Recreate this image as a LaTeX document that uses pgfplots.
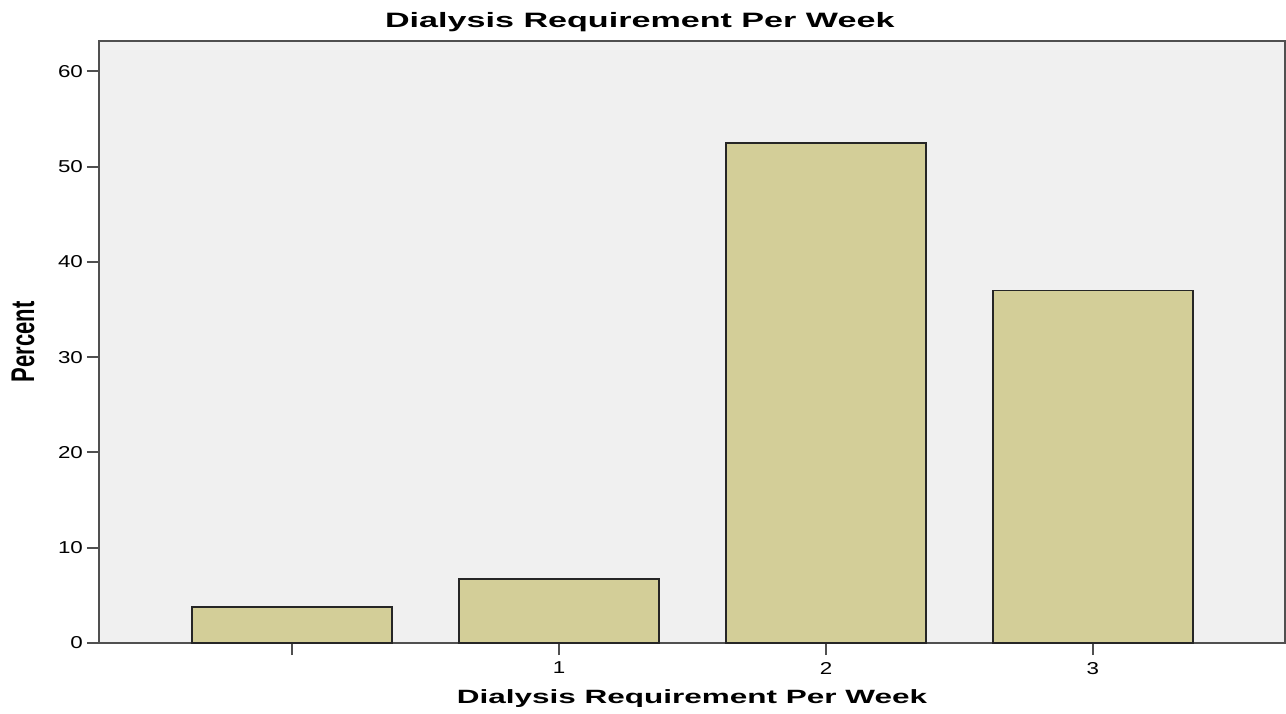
\documentclass[border=0pt]{standalone}
\usepackage{graphicx}
\usepackage{pgfplots}
\pgfplotsset{compat=1.18}
\usepackage{fontspec}
\setmainfont{Liberation Sans}
\newfontfamily\widefont[FakeStretch=1.64]{Liberation Sans}
\newfontfamily\tickfont[FakeStretch=1.3]{Liberation Sans}
\definecolor{barfill}{HTML}{D3CE98}
\definecolor{plotbg}{HTML}{F0F0F0}
\definecolor{axisgray}{HTML}{505050}
\begin{document}
\begin{tikzpicture}
\useasboundingbox (-49.5pt,-35pt) rectangle (593.5pt,321.5pt);
\begin{axis}[
    at={(0pt,0pt)}, anchor=south west,
    scale only axis,
    width=593pt, height=301pt,
    xmin=-0.724, xmax=3.72,
    ymin=0, ymax=63.2,
    axis background/.style={fill=plotbg},
    axis line style={draw=axisgray, line width=1.2pt},
    xtick={0,1,2,3},
    xticklabels={,1,2,3},
    ytick={0,10,20,30,40,50,60},
    tick align=outside,
    tick pos=left,
    major tick length=6pt,
    every tick/.style={draw=axisgray, line width=1pt},
    ticklabel style={font=\tickfont\fontsize{8.6}{10}\selectfont, text=black},
    yticklabel style={xshift=1.5pt},
    /pgf/number format/assume math mode=true,
    every axis title shift=0pt,
    title={\widefont\bfseries\fontsize{10.4}{12}\selectfont Dialysis Requirement Per Week},
    title style={at={(axis description cs:0.456,1)}, anchor=base, yshift=6.5pt},
    xlabel={\widefont\bfseries\fontsize{9.6}{12}\selectfont Dialysis Requirement Per Week},
    xlabel style={at={(axis description cs:0.5,0)}, anchor=base, yshift=-30pt},
    ylabel={\scalebox{1.1}[1.64]{\bfseries\fontsize{10}{12}\selectfont Percent}},
    ylabel style={at={(axis description cs:-0.064,0.5)}, anchor=center, rotate=0},
]
% Percent per category (first category has no label)
\addplot[ybar, bar width=0.75, fill=barfill, draw=black!85, line width=0.9pt]
    coordinates {(0,3.8) (1,6.7) (2,52.5) (3,37.0)};
\end{axis}
\end{tikzpicture}
\end{document}
